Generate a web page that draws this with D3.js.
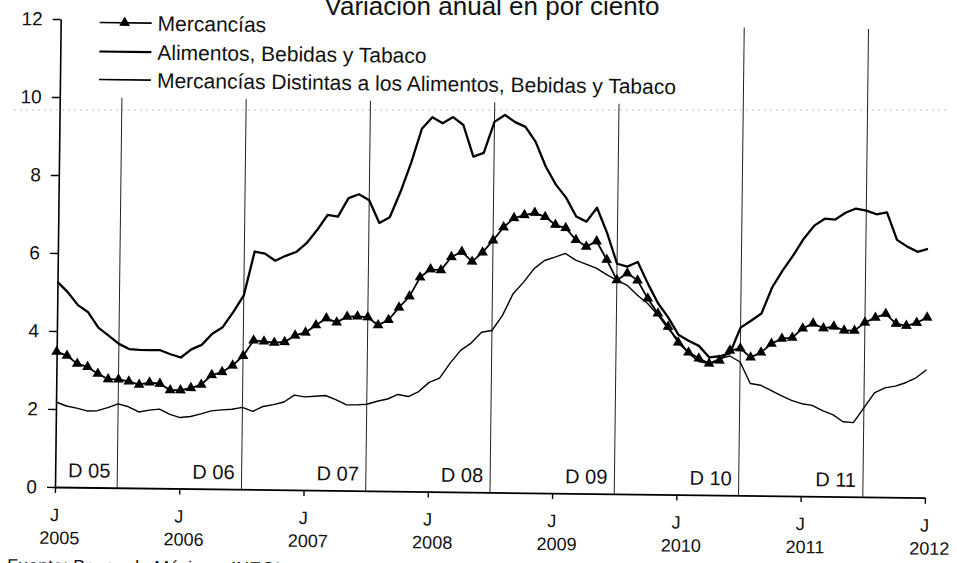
<!DOCTYPE html>
<html><head><meta charset="utf-8">
<script src="https://cdn.jsdelivr.net/npm/d3@7"></script>
<style>
body{margin:0;background:#fff}
text{font-family:"Liberation Sans",Arial,Helvetica,sans-serif;fill:#111}
</style>
</head><body>
<svg id="c" width="957" height="563"></svg>
<script>
// Monthly data, June 2005 .. June 2012 (85 months), variación anual en por ciento
const mercancias=[3.47,3.37,3.17,3.09,2.92,2.78,2.78,2.73,2.65,2.71,
2.68,2.52,2.52,2.58,2.67,2.92,3.0,3.17,3.42,3.82,
3.8,3.77,3.79,3.96,4.04,4.23,4.41,4.31,4.46,4.47,
4.45,4.25,4.39,4.71,5.0,5.49,5.7,5.68,6.02,6.16,
5.91,6.15,6.46,6.8,7.04,7.12,7.18,7.08,6.88,6.8,
6.5,6.33,6.47,6.0,5.48,5.66,5.48,5.02,4.64,4.3,
3.9,3.65,3.5,3.37,3.45,3.71,3.77,3.54,3.67,3.9,
4.03,4.06,4.3,4.43,4.31,4.36,4.26,4.26,4.47,4.6,
4.7,4.45,4.4,4.48,4.62];
const alimentos=[5.26,5.0,4.67,4.49,4.1,3.9,3.69,3.56,3.54,3.54,
3.54,3.44,3.36,3.57,3.69,3.98,4.15,4.54,4.97,6.1,
6.05,5.87,6.0,6.1,6.33,6.67,7.06,7.02,7.5,7.6,
7.45,6.87,7.02,7.67,8.42,9.3,9.6,9.45,9.61,9.41,
8.6,8.7,9.5,9.68,9.5,9.38,9.0,8.37,7.91,7.58,
7.1,6.97,7.33,6.69,5.9,5.83,5.95,5.4,4.9,4.54,
4.1,3.95,3.82,3.53,3.56,3.64,4.3,4.48,4.67,5.34,
5.78,6.17,6.6,6.94,7.12,7.1,7.28,7.39,7.34,7.25,
7.3,6.6,6.43,6.3,6.38];
const noAlimentos=[2.18,2.08,2.03,1.96,1.97,2.05,2.15,2.08,1.95,2.0,
2.03,1.9,1.82,1.85,1.92,2.0,2.03,2.05,2.1,2.0,
2.13,2.18,2.25,2.43,2.39,2.41,2.43,2.33,2.2,2.2,
2.22,2.3,2.36,2.48,2.43,2.56,2.8,2.91,3.3,3.63,
3.82,4.1,4.15,4.54,5.1,5.4,5.75,5.96,6.05,6.15,
5.98,5.88,5.78,5.62,5.48,5.35,5.1,4.89,4.6,4.25,
3.97,3.63,3.42,3.37,3.5,3.57,3.42,2.87,2.83,2.7,
2.57,2.45,2.37,2.33,2.2,2.1,1.92,1.9,2.28,2.67,
2.8,2.85,2.94,3.07,3.28];
const yTicks=[0,2,4,6,8,10,12];
const monthLabel="J";
const yearLabels=["2005","2006","2007","2008","2009","2010","2011","2012"];
const decLabels=["D 05","D 06","D 07","D 08","D 09","D 10","D 11"];
const legendLabels=["Mercancías","Alimentos, Bebidas y Tabaco","Mercancías Distintas a los Alimentos, Bebidas y Tabaco"];
const titleText="Variación anual en por ciento";
const sourceText="Fuente: Banco de México e INEGI.";

const svg=d3.select("#c");
const x=d3.scaleLinear().domain([0,mercancias.length-1]).range([55,925]);
const y=d3.scaleLinear().domain([0,12]).range([487,19]);

// title (clipped at top)
svg.append("text").attr("x",492).attr("y",15).attr("text-anchor","middle")
  .style("font-size","26px").text(titleText);

// faint dotted scan artifact
svg.append("line").attr("x1",14).attr("x2",950).attr("y1",110).attr("y2",110)
  .attr("stroke","#888").attr("stroke-width",0.8).attr("stroke-dasharray","2,4").attr("opacity",0.6);

const g=svg.append("g").attr("transform","rotate(0.7,55,487)");

// December separators
decLabels.forEach((lab,k)=>{
  const idx=6+12*k;
  const top=k>=5?12:10;
  g.append("line").attr("x1",x(idx)).attr("x2",x(idx)).attr("y1",y(0)).attr("y2",y(top))
    .attr("stroke","#222").attr("stroke-width",1);
  g.append("text").attr("x",x(idx)-7).attr("y",477).attr("text-anchor","end")
    .style("font-size","20px").text(lab);
});

// axes
const ya=g.append("g").attr("transform",`translate(${x(0)},0)`)
  .call(d3.axisLeft(y).tickValues(yTicks).tickSize(8).tickSizeOuter(0).tickPadding(10));
ya.select(".domain").attr("stroke","#000").attr("stroke-width",1.6);
ya.selectAll(".tick line").attr("stroke","#000").attr("stroke-width",1.4);
ya.selectAll(".tick text").style("font-size","19px").attr("fill","#111");

const xTickIdx=d3.range(0,mercancias.length,12);
const xa=g.append("g").attr("transform",`translate(0,${y(0)})`)
  .call(d3.axisBottom(x).tickValues(xTickIdx).tickSize(6).tickSizeOuter(0).tickFormat(()=>""));
xa.select(".domain").attr("stroke","#000").attr("stroke-width",1.8);
xa.selectAll(".tick line").attr("stroke","#000").attr("stroke-width",1.4);
xTickIdx.forEach((idx,k)=>{
  g.append("text").attr("x",x(idx)).attr("y",521).attr("text-anchor","middle")
    .style("font-size","18px").text(monthLabel);
  g.append("text").attr("x",x(idx)+5).attr("y",544).attr("text-anchor","middle")
    .style("font-size","18px").text(yearLabels[k]);
});

// series
const line=d3.line().x((d,i)=>x(i)).y(d=>y(d));
g.append("path").datum(alimentos).attr("d",line).attr("fill","none")
  .attr("stroke","#000").attr("stroke-width",2.3).attr("stroke-linejoin","round");
g.append("path").datum(noAlimentos).attr("d",line).attr("fill","none")
  .attr("stroke","#000").attr("stroke-width",1.4).attr("stroke-linejoin","round");
g.append("path").datum(mercancias).attr("d",line).attr("fill","none")
  .attr("stroke","#000").attr("stroke-width",1.8).attr("stroke-linejoin","round");
const tri=d3.symbol().type(d3.symbolTriangle).size(50);
g.selectAll("path.tri").data(mercancias).join("path").attr("class","tri")
  .attr("d",tri).attr("transform",(d,i)=>`translate(${x(i)},${y(d)})`).attr("fill","#000");

// legend
const legY=[22,51,79];
legendLabels.forEach((lab,k)=>{
  g.append("line").attr("x1",94).attr("x2",146).attr("y1",legY[k]).attr("y2",legY[k])
    .attr("stroke","#000").attr("stroke-width",k===1?2.2:1.6);
  if(k===0) g.append("path").attr("d",tri).attr("transform",`translate(119,${legY[k]})`).attr("fill","#000");
  g.append("text").attr("x",152).attr("y",legY[k]+7.5).style("font-size","21px").text(lab);
});

// source (clipped at bottom)
g.append("text").attr("x",8).attr("y",572).style("font-size","18px").text(sourceText);
</script>
</body></html>
